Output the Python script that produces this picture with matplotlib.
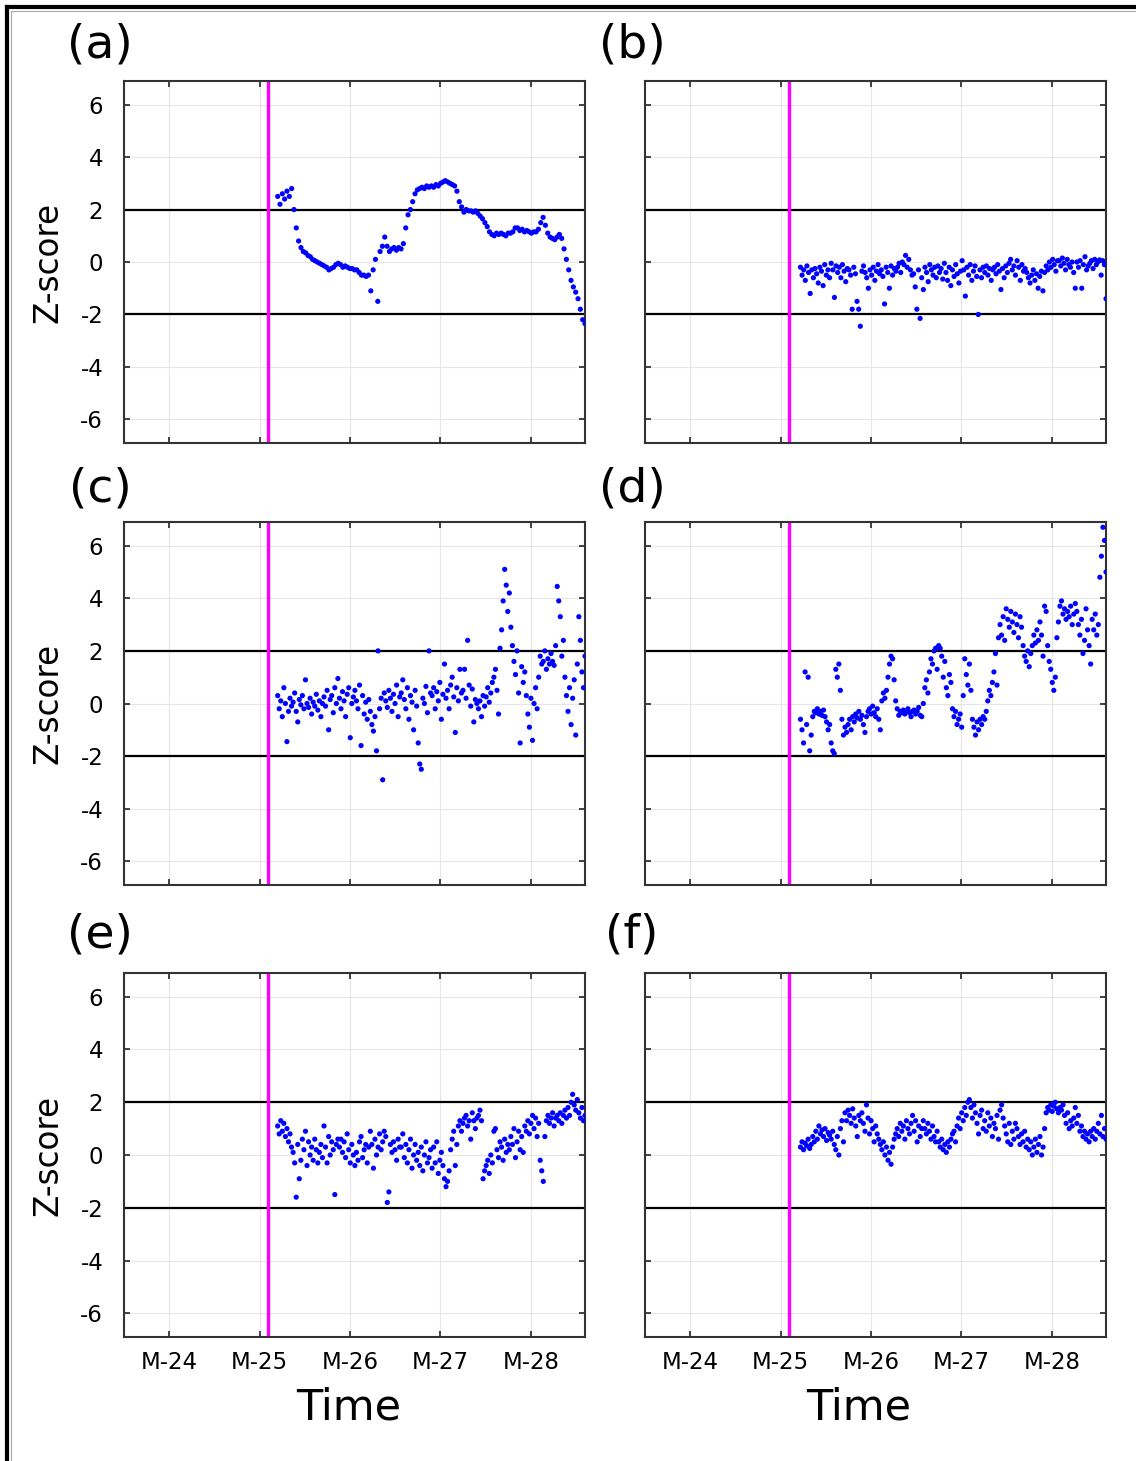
import numpy as np
import matplotlib.pyplot as plt
from matplotlib.lines import Line2D

plt.rcParams['axes.unicode_minus'] = False

months = ['M-24', 'M-25', 'M-26', 'M-27', 'M-28']
month_pos = [24, 25, 26, 27, 28]
event_t = 25.09
thresh = [2, -2]
yticks = [-6, -4, -2, 0, 2, 4, 6]
labels = ['(a)', '(b)', '(c)', '(d)', '(e)', '(f)']
t_start = [25.20, 25.22, 25.20, 25.22, 25.20, 25.22]
t_end = 28.60

# z-scores, in time order
za = [2.5, 2.2, 2.6, 2.4, 2.7, 2.5, 2.8, 2.0, 1.3, 0.8,
      0.55, 0.4, 0.35, 0.25, 0.2, 0.1, 0.05, 0.0, -0.05, -0.1,
      -0.15, -0.2, -0.3, -0.25, -0.2, -0.1, -0.05, -0.1, -0.2, -0.15,
      -0.2, -0.25, -0.25, -0.3, -0.3, -0.4, -0.5, -0.5, -0.55, -0.5,
      -1.1, -0.3, 0.1, -1.5, 0.4, 0.6, 0.95, 0.6, 0.4, 0.5,
      0.55, 0.45, 0.55, 0.5, 0.7, 1.3, 1.8, 2.0, 2.3, 2.6,
      2.75, 2.8, 2.85, 2.8, 2.9, 2.85, 2.9, 2.85, 2.95, 2.9,
      3.0, 3.05, 3.1, 3.05, 3.0, 2.95, 2.9, 2.7, 2.3, 2.1,
      1.9, 2.0, 1.95, 1.95, 1.9, 1.95, 1.85, 1.75, 1.65, 1.5,
      1.35, 1.15, 1.05, 1.0, 1.1, 1.05, 1.1, 1.05, 1.0, 1.1,
      1.1, 1.15, 1.3, 1.3, 1.2, 1.25, 1.15, 1.2, 1.15, 1.1,
      1.15, 1.15, 1.25, 1.5, 1.7, 1.4, 1.1, 0.95, 0.9, 0.85,
      0.95, 1.05, 0.9, 0.5, 0.1, -0.3, -0.7, -0.95, -1.15, -1.4,
      -1.8, -2.2, -2.35]

zb = [-0.2, -0.5, -0.3, -0.7, -0.15, -0.4, -1.2, -0.3, -0.6, -0.25,
      -0.45, -0.8, -0.2, -0.35, -0.9, -0.1, -0.5, -0.3, -0.6, -0.05,
      -0.3, -1.35, -0.15, -0.4, -0.2, -0.6, -0.1, -0.35, -0.75, -0.25,
      -0.3, -0.5, -1.8, -0.2, -0.45, -1.5, -1.8, -2.45, -0.35, -0.15,
      -0.4, -0.6, -1.0, -0.3, -0.5, -0.2, -0.7, -0.35, -0.1, -0.45,
      -0.3, -0.55, -1.6, -0.2, -0.4, -1.0, -0.15, -0.5, -0.25, -0.35,
      -0.2, -0.05, -0.4, 0.0, -0.1, 0.25, -0.2, 0.1, -0.3, -0.5,
      -0.45, -0.95, -1.8, -0.3, -2.15, -0.6, -1.05, -0.2, -0.4, -0.75,
      -0.1, -0.3, -0.5, -0.2, -0.6, -0.15, -0.4, -0.25, -0.65, -0.05,
      -0.4, -0.7, -0.2, -0.9, -0.3, -0.55, -0.1, -0.45, -0.8, -0.35,
      0.05, -0.3, -1.3, -0.2, -0.5, -0.1, -0.7, -0.35, -0.15, -0.55,
      -2.0, -0.3, -0.6, -0.2, -0.4, -0.15, -0.5, -0.25, -0.7, -0.3,
      -0.2, -0.45, -0.1, -0.35, -1.05, -0.25, -0.6, -0.15, -0.4, -0.05,
      0.1, -0.3, -0.15, -0.5, 0.05, -0.2, -0.7, -0.1, -0.35, -0.25,
      -0.4, -0.6, -0.8, -0.5, -0.3, -0.7, -0.45, -1.0, -0.55, -0.35,
      -1.1, -0.4, -0.15, -0.3, 0.0, -0.2, 0.1, -0.1, -0.35, 0.05,
      0.05, -0.15, 0.15, -0.05, -0.3, 0.1, -0.1, -0.2, 0.0, -0.4,
      -1.0, 0.0, -0.2, 0.05, -1.0, -0.1, 0.2, -0.3, -0.15, -0.05,
      0.05, -0.25, 0.1, -0.1, 0.0, 0.08, -0.5, 0.05, -0.1, -1.4]

zc = [0.3, -0.2, 0.1, -0.5, 0.6, 0.0, -1.45, -0.3, 0.2, -0.1,
      0.05, 0.4, -0.3, -0.7, 0.15, -0.05, 0.3, -0.2, 0.9, 0.0,
      -0.15, 0.2, -0.4, 0.05, -0.1, 0.35, -0.25, 0.1, -0.5, 0.0,
      0.25, -0.1, 0.5, -1.0, 0.15, 0.3, -0.35, 0.6, 0.0, 0.95,
      0.2, -0.2, 0.45, 0.1, -0.5, 0.35, 0.6, -1.3, 0.0, 0.25,
      0.5, 0.1, -0.2, 0.7, -1.6, 0.3, -0.4, 0.05, -0.6, 0.15,
      -0.3, -0.8, -1.05, -0.5, -1.8, 2.0, -0.2, 0.2, -2.9, 0.4,
      0.1, -0.15, 0.5, 0.2, -0.3, 0.35, 0.0, 0.7, -0.5, 0.25,
      0.4, 0.9, 0.15, -0.2, 0.6, -0.6, 0.3, 0.05, -1.0, 0.5,
      -0.1, -1.5, -2.3, -2.5, 0.2, 0.0, 0.65, -0.35, 2.0, 0.4,
      0.3, 0.6, -0.2, 0.45, 0.1, 0.8, -0.6, 0.35, 1.5, 0.2,
      0.5, -0.2, 0.7, 1.0, 0.25, -1.1, 0.6, 0.1, 1.3, 0.4,
      0.5, 1.3, 0.2, 2.4, 0.7, -0.1, 0.55, -0.7, 0.15, 0.0,
      -0.2, 0.1, -0.5, 0.3, -0.1, 0.25, 0.6, 0.05, 0.4, 0.8,
      1.0, 1.3, 0.5, -0.4, 2.1, 2.8, 3.9, 5.1, 4.5, 3.5,
      4.2, 2.9, 2.2, 1.6, 1.1, 2.0, 0.4, -1.5, 1.4, 0.8,
      1.2, 0.3, -0.4, -0.9, 0.2, -1.4, 0.0, 0.6, -0.2, 1.0,
      1.8, 1.5, 1.6, 2.0, 1.3, 1.7, 1.5, 1.9, 1.6, 1.45,
      2.2, 4.45, 3.9, 3.3, 1.8, 2.4, 1.0, 0.3, -0.3, 0.6,
      -0.8, 0.2, 0.9, -1.2, 1.5, 3.3, 2.4, 1.2, 0.6, 1.8]

zd = [-0.6, -1.0, -1.5, 1.2, -0.8, 1.0, -1.8, -1.2, -0.5, -0.3,
      -0.35, -0.2, -0.4, -0.3, -0.45, -0.25, -0.5, -0.7, -1.0, -0.8,
      -1.5, -1.8, -1.9, 1.3, 1.0, 1.5, 0.5, -0.6, -1.2, -0.9,
      -1.1, -0.8, -0.6, -1.0, -0.5, -0.7, -0.4, -0.55, -0.3, -0.6,
      -0.45, -0.8, -1.1, -0.5, -0.3, -0.2, -0.4, -0.1, -0.35, -0.5,
      -0.2, -0.6, -1.0, 0.1, 0.4, 0.2, 0.5, 1.0, 1.5, 1.8,
      1.7, 0.9, 0.1, -0.2, -0.45, -0.3, -0.35, -0.25, -0.4, -0.3,
      -0.2, -0.35, -0.5, -0.3, -0.25, -0.4, -0.3, -0.15, -0.45, -0.5,
      0.0, 0.6, 0.9, 0.4, 1.2, 1.7, 1.5, 2.0, 2.1, 1.3,
      2.2, 2.1, 1.8, 1.0, 1.6, 0.6, 0.3, 1.1, 0.8, -0.2,
      -0.5, -0.3, -0.8, -0.6, -0.4, -0.9, 0.3, 1.7, 1.1, 0.7,
      1.5, 0.5, -0.6, -0.9, -1.2, -0.7, -1.0, -0.6, -0.8, -0.5,
      -0.6, -0.3, 0.1, 0.5, 0.3, 0.8, 1.2, 1.9, 0.7, 2.5,
      3.0, 2.6, 3.3, 2.4, 3.6, 3.2, 2.9, 3.5, 3.1, 2.7,
      3.4, 3.0, 2.5, 3.3, 2.9, 2.2, 1.8, 1.6, 2.0, 1.4,
      1.9, 2.2, 2.6, 2.3, 2.8, 2.4, 3.1, 2.6, 1.8, 3.7,
      3.5, 2.2, 1.6, 1.3, 0.8, 0.5, 1.0, 2.5, 3.1, 3.7,
      3.9, 3.4, 3.6, 3.2, 3.5, 3.3, 3.7, 3.0, 3.4, 3.8,
      3.5, 3.0, 2.6, 3.2, 1.9, 2.4, 3.6, 2.8, 2.2, 1.5,
      3.2, 2.8, 3.4, 2.6, 3.0, 4.8, 5.6, 6.7, 6.2, 5.0]

ze = [1.1, 0.8, 1.3, 0.9, 1.2, 0.7, 1.0, 0.5, 0.8, 0.3,
      0.1, -0.3, -1.6, 0.4, -0.9, -0.2, 0.6, 0.2, 0.9, -0.4,
      0.5, 0.0, 0.3, -0.2, 0.6, 0.2, -0.3, 0.1, 0.4, -0.1,
      1.1, 0.3, -0.3, 0.7, 0.0, 0.5, 0.2, -1.5, 0.4, 0.6,
      0.3, 0.6, 0.1, 0.5, -0.1, 0.8, 0.2, -0.3, 0.4, 0.0,
      -0.4, 0.1, -0.2, 0.5, 0.7, -0.1, 0.2, 0.4, -0.3, 0.3,
      0.9, 0.4, -0.5, 0.6, 0.0, 0.3, 0.8, 0.2, 0.5, 0.9,
      0.7, -1.8, -1.4, 0.4, 0.1, 0.5, 0.2, -0.2, 0.6, 0.3,
      0.3, 0.8, -0.1, 0.4, -0.3, 0.2, 0.6, -0.5, 0.0, 0.4,
      -0.2, 0.1, -0.4, 0.3, -0.6, 0.0, 0.5, -0.3, -0.1, 0.2,
      -0.5, 0.3, -0.3, 0.5, -0.7, -0.2, 0.1, -0.4, -0.9, -1.2,
      -1.0, -0.6, 0.2, 0.6, 0.9, -0.4, 0.4, 1.1, 1.3, 0.9,
      1.2, 1.4, 1.5, 1.1, 1.3, 0.6, 1.6, 1.3, 1.0, 1.4,
      1.5, 1.7, 1.3, -0.9, -0.6, -0.4, -0.2, -0.7, 0.0, -0.3,
      0.9, 1.0, 0.2, -0.1, 0.5, 0.3, -0.2, 0.6, 0.1, 0.4,
      0.2, 0.7, 0.4, 1.0, -0.1, 0.5, 0.9, 0.2, 0.7, 0.1,
      1.1, 0.9, 1.3, 0.8, 1.2, 1.5, 1.0, 1.4, 0.7, 1.2,
      -0.2, -0.6, -1.0, 0.7, 1.3, 1.5, 1.2, 1.4, 1.6, 1.1,
      1.4, 1.5, 1.3, 1.6, 1.2, 1.5, 1.7, 1.4, 1.8, 1.5,
      2.0, 2.3, 1.9, 1.7, 2.1, 1.6, 1.4, 1.8, 1.3, 1.5]

zf = [0.3, 0.5, 0.2, 0.45, 0.35, 0.6, 0.25, 0.4, 0.7, 0.5,
      0.9, 0.6, 1.1, 0.8, 0.95, 0.7, 1.0, 0.55, 0.85, 0.75,
      0.6, 0.9, 0.4, 0.2, 0.7, 0.0, 1.0, 1.3, 0.5, 1.6,
      1.3, 1.7, 1.5, 1.2, 1.75, 1.4, 1.1, 0.7, 1.5, 1.3,
      1.6, 1.2, 0.9, 1.9, 1.4, 0.8, 1.3, 1.0, 0.5, 1.1,
      0.8, 0.6, 0.4, 0.2, 0.5, 0.0, 0.3, -0.2, 0.1, -0.35,
      0.3, 0.6, 0.8, 1.0, 0.7, 1.2, 0.9, 1.1, 0.6, 1.3,
      1.0, 0.8, 1.2, 1.5, 0.9, 1.3, 0.5, 1.1, 0.7, 1.0,
      1.3, 1.0, 0.8, 1.2, 0.9, 0.6, 1.1, 0.7, 0.5, 0.9,
      0.5, 0.3, 0.6, 0.2, 0.4, 0.1, 0.5, 0.3, 0.6, 0.8,
      0.9, 0.5, 1.1, 1.4, 1.0, 1.6, 1.3, 1.8, 1.5, 2.0,
      2.1, 1.8, 1.4, 1.9, 1.6, 1.2, 0.8, 1.5, 1.7, 1.0,
      1.3, 0.9, 1.6, 1.1, 1.4, 0.7, 1.2, 1.0, 1.5, 0.6,
      1.7, 1.9, 1.4, 1.1, 0.8, 0.5, 1.2, 0.4, 0.9, 0.6,
      1.2, 1.0, 0.7, 0.4, 0.8, 0.5, 0.9, 0.3, 0.6, 0.2,
      0.5, 0.0, 0.3, 0.6, 0.1, 0.4, 0.7, 0.0, 0.3, 1.0,
      1.6, 1.8, 1.7, 1.9, 1.65, 1.85, 2.0, 1.75, 1.6, 1.8,
      1.7, 1.9, 1.5, 1.2, 1.6, 1.0, 1.3, 1.1, 1.4, 1.8,
      1.2, 1.5, 0.9, 1.1, 0.7, 0.9, 0.6, 0.8, 0.5, 0.9,
      0.7, 1.0, 0.6, 0.9, 1.2, 0.8, 1.5, 0.7, 1.0, 0.6]

series = [za, zb, zc, zd, ze, zf]

W, H = 1136, 1461
fig = plt.figure(figsize=(W / 100, H / 100), dpi=100)

col_left = [124, 645]
row_top = [81, 522, 973]
row_bot = [443, 885, 1337]
ax_w = 461

for i, z in enumerate(series):
    r, c = divmod(i, 2)
    ax = fig.add_axes([col_left[c] / W, 1 - row_bot[r] / H,
                       ax_w / W, (row_bot[r] - row_top[r]) / H])
    t = np.linspace(t_start[i], t_end, len(z))
    ax.grid(True, color='#e6e6e6', lw=0.8)
    ax.set_axisbelow(True)
    for h in thresh:
        ax.axhline(h, color='black', lw=1.6, zorder=2)
    ax.axvline(event_t, color='#ff00ff', lw=2.4, zorder=2)
    ax.scatter(t, z, s=14, color='#0000ff', edgecolors='none', zorder=3)
    ax.set_xlim(23.5, 28.6)
    ax.set_ylim(-6.9, 6.9)
    ax.set_yticks(yticks)
    ax.set_xticks(month_pos)
    ax.tick_params(direction='in', top=True, right=True, length=4,
                   width=1.3, color='#333333', labelsize=16.5, pad=10)
    ax.tick_params(axis='y', pad=15)
    if r < 2:
        ax.set_xticklabels([])
    else:
        ax.set_xticklabels(months)
    if c == 1:
        ax.set_yticklabels([])
    for sp in ax.spines.values():
        sp.set_color('#333333')
        sp.set_linewidth(1.5)
    lx = [100, 632][c]
    ly = [45, 489, 935][r]
    fig.text(lx / W, 1 - ly / H, labels[i], fontsize=34, ha='center', va='center')
    if c == 0:
        fig.text(48 / W, 1 - (row_top[r] + row_bot[r]) / 2 / H, 'Z-score',
                 rotation=90, fontsize=23.5, ha='center', va='center')

fig.text(349 / W, 1 - 1408 / H, 'Time', fontsize=31, ha='center', va='center')
fig.text(859 / W, 1 - 1408 / H, 'Time', fontsize=31, ha='center', va='center')

# border that shows on the top and left edge
fig.add_artist(Line2D([7 / W, 7 / W], [0, 1 - 7 / H], color='black', lw=3, transform=fig.transFigure))
fig.add_artist(Line2D([7 / W, 1], [1 - 7 / H, 1 - 7 / H], color='black', lw=3, transform=fig.transFigure))
fig.add_artist(Line2D([10.5 / W, 10.5 / W], [0, 1 - 10.5 / H], color='#aaaaaa', lw=0.8, transform=fig.transFigure))
fig.add_artist(Line2D([10.5 / W, 1], [1 - 10.5 / H, 1 - 10.5 / H], color='#aaaaaa', lw=0.8, transform=fig.transFigure))

fig.savefig('out.png', dpi=100)
